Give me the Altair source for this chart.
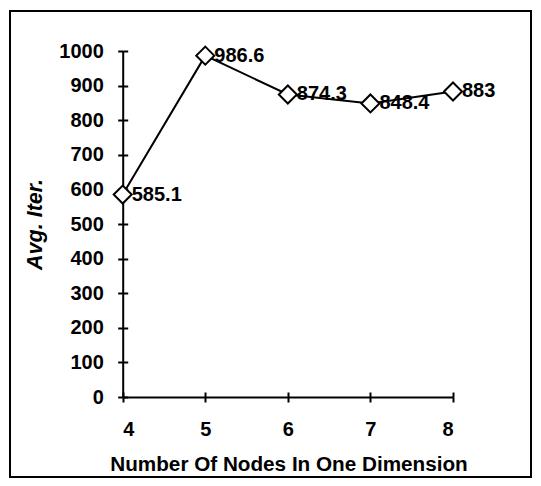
import altair as alt
import pandas as pd

# ---- data ----
nodes = [4, 5, 6, 7, 8]
avg_iter = [585.1, 986.6, 874.3, 848.4, 883]
y_ticks = [0, 100, 200, 300, 400, 500, 600, 700, 800, 900, 1000]
x_title = "Number Of Nodes In One Dimension"
y_title = "Avg. Iter."

df = pd.DataFrame({"nodes": nodes, "iters": avg_iter})

FONT = "Liberation Sans"
W, H = 521, 466            # whole framed area (view stroke = outer border)
Y_AXIS_AT = 112.7          # x position of y axis inside the frame
X_AXIS_AT = 386            # y position of x axis inside the frame
X_RANGE = [Y_AXIS_AT, 443]
Y_RANGE = [X_AXIS_AT, 40]
TICK = 5

xs = alt.Scale(domain=[4, 8], range=X_RANGE, nice=False, zero=False)
ys = alt.Scale(domain=[0, 1000], range=Y_RANGE, nice=False, zero=True)

common = dict(grid=False, tickColor="black", tickWidth=2, tickSize=TICK)

x_main = alt.Axis(
    orient="bottom", offset=X_AXIS_AT - H, values=nodes, format="d",
    domainColor="black", domainWidth=2,
    labelFont=FONT, labelFontSize=20, labelFontWeight="bold", labelColor="black",
    labelPadding=17,
    title=x_title, titleFont=FONT, titleFontSize=20.7, titleFontWeight="bold",
    titleColor="black", titleX=278.5, titleY=73, titleAlign="center",
    titleBaseline="alphabetic", **common)
y_main = alt.Axis(
    orient="left", offset=-Y_AXIS_AT, values=y_ticks, format="d",
    domainColor="black", domainWidth=2,
    labelFont=FONT, labelFontSize=20, labelFontWeight="bold", labelColor="black",
    labelPadding=14.4,
    title=y_title, titleFont=FONT, titleFontSize=21.5, titleFontWeight="bold",
    titleFontStyle="italic", titleColor="black", titleAngle=270,
    titleX=-81.2, titleY=213, titleAlign="center", titleBaseline="alphabetic",
    **common)
# inward halves of the cross ticks
x_inner = alt.Axis(orient="bottom", offset=X_AXIS_AT - TICK - H, values=nodes,
                   labels=False, domain=False, title=None, **common)
y_inner = alt.Axis(orient="left", offset=-(Y_AXIS_AT + TICK), values=y_ticks,
                   labels=False, domain=False, title=None, **common)

base = alt.Chart(df)
line = base.mark_line(color="black", strokeWidth=2).encode(
    x=alt.X("nodes:Q", scale=xs, axis=x_main),
    y=alt.Y("iters:Q", scale=ys, axis=y_main),
)
pts = base.mark_point(shape="diamond", size=324, filled=True, fill="white",
                      stroke="black", strokeWidth=2, opacity=1).encode(
    x=alt.X("nodes:Q", scale=xs, axis=x_inner),
    y=alt.Y("iters:Q", scale=ys, axis=y_inner),
)
labels = base.mark_text(align="left", baseline="middle", dx=9, font=FONT,
                        fontSize=20, fontWeight="bold", color="black").encode(
    x=alt.X("nodes:Q", scale=xs, axis=None),
    y=alt.Y("iters:Q", scale=ys, axis=None),
    text=alt.Text("iters:Q", format="~f"),
)

chart = (
    alt.layer(line, pts, labels)
    .resolve_axis(x="independent", y="independent")
    .properties(width=W, height=H,
                padding={"left": 2, "top": 3, "right": 2, "bottom": 2},
                background="white")
    .configure_view(stroke="black", strokeWidth=2)
)

chart.save("out.html", embed_options={"renderer": "svg", "actions": False})
